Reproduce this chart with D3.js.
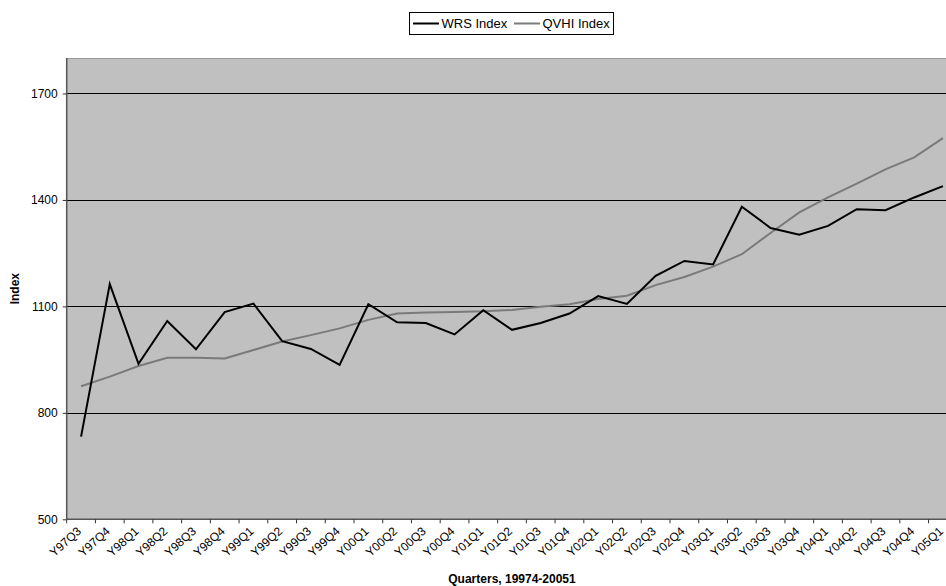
<!DOCTYPE html>
<html>
<head>
<meta charset="utf-8">
<script src="https://cdn.jsdelivr.net/npm/d3@7"></script>
<style>
  html, body { margin: 0; padding: 0; background: #fff; }
  svg { display: block; font-family: "Liberation Sans", Arial, sans-serif; }
</style>
</head>
<body>
<svg id="chart" width="946" height="586"></svg>
<script>
// Quarterly categories
const quarters = [
  "Y97Q3","Y97Q4",
  "Y98Q1","Y98Q2","Y98Q3","Y98Q4",
  "Y99Q1","Y99Q2","Y99Q3","Y99Q4",
  "Y00Q1","Y00Q2","Y00Q3","Y00Q4",
  "Y01Q1","Y01Q2","Y01Q3","Y01Q4",
  "Y02Q1","Y02Q2","Y02Q3","Y02Q4",
  "Y03Q1","Y03Q2","Y03Q3","Y03Q4",
  "Y04Q1","Y04Q2","Y04Q3","Y04Q4",
  "Y05Q1"
];

// Series values
const wrsIndex = [
  733, 1163, 938, 1059, 979, 1084, 1108, 1002, 980, 935,
  1106, 1055, 1053, 1021, 1089, 1034, 1053, 1080, 1129, 1107,
  1186, 1228, 1218, 1381, 1321, 1302, 1327, 1374, 1371, 1407,
  1439
];
const qvhiIndex = [
  875, 902, 932, 955, 955, 953, 977, 1001, 1019, 1038,
  1062, 1080, 1083, 1084, 1086, 1090, 1099, 1106, 1121, 1130,
  1160, 1183, 1212, 1247, 1307, 1365, 1407, 1446, 1486, 1520,
  1574
];

// Y axis ticks
const yTicks = [500, 800, 1100, 1400, 1700];
const yDomain = [500, 1800];

const seriesNames = ["WRS Index", "QVHI Index"];

const svg = d3.select("#chart");

const plot = { left: 66.7, right: 957.3, top: 58, bottom: 519.3 };

const x = d3.scaleBand()
  .domain(quarters)
  .range([plot.left, plot.right])
  .padding(0);

const y = d3.scaleLinear()
  .domain(yDomain)
  .range([plot.bottom, plot.top]);

// Plot area background
svg.append("rect")
  .attr("x", plot.left)
  .attr("y", plot.top)
  .attr("width", plot.right - plot.left)
  .attr("height", plot.bottom - plot.top)
  .attr("fill", "#c0c0c0");

// top border
svg.append("line")
  .attr("x1", plot.left).attr("x2", plot.right)
  .attr("y1", plot.top + 0.5).attr("y2", plot.top + 0.5)
  .attr("stroke", "#9a9a9a").attr("stroke-width", 1);

// Horizontal gridlines
svg.append("g")
  .selectAll("line")
  .data(yTicks.filter(d => d !== 500))
  .join("line")
  .attr("x1", plot.left)
  .attr("x2", plot.right)
  .attr("y1", d => Math.round(y(d)) + 0.5)
  .attr("y2", d => Math.round(y(d)) + 0.5)
  .attr("stroke", "#000")
  .attr("stroke-width", 1);

// Y axis
const yAxis = d3.axisLeft(y)
  .tickValues(yTicks)
  .tickSize(4)
  .tickPadding(5)
  .tickFormat(d3.format("d"));

const gy = svg.append("g")
  .attr("transform", `translate(${plot.left},0)`)
  .call(yAxis);
gy.select(".domain").attr("stroke", "#555").attr("stroke-width", 1.5)
  .attr("d", `M0,${plot.top}V${plot.bottom}`);
gy.selectAll(".tick line").attr("stroke", "#333");
gy.selectAll(".tick text")
  .attr("font-size", 12)
  .attr("fill", "#000")
  .attr("font-family", "Liberation Sans, Arial, sans-serif");

// X axis
const xAxis = d3.axisBottom(x).tickSize(0).tickPadding(0);
const gx = svg.append("g")
  .attr("transform", `translate(0,${plot.bottom})`)
  .call(xAxis);
gx.select(".domain").attr("stroke", "#555").attr("stroke-width", 1.5)
  .attr("d", `M${plot.left},0H${plot.right}`);

// Tick marks at category boundaries
gx.append("g")
  .selectAll("line")
  .data(quarters.concat(["__end"]))
  .join("line")
  .attr("x1", (d, i) => plot.left + i * x.bandwidth())
  .attr("x2", (d, i) => plot.left + i * x.bandwidth())
  .attr("y1", 0)
  .attr("y2", 4)
  .attr("stroke", "#333");

gx.selectAll(".tick text")
  .attr("font-size", 12)
  .attr("fill", "#000")
  .attr("font-family", "Liberation Sans, Arial, sans-serif")
  .attr("text-anchor", "end")
  .attr("dy", null)
  .attr("y", 0)
  .attr("transform", "translate(1,13) rotate(-42)");

// Lines
const line = d3.line()
  .x((d, i) => x(quarters[i]) + x.bandwidth() / 2)
  .y(d => y(d));

svg.append("path")
  .datum(qvhiIndex)
  .attr("fill", "none")
  .attr("stroke", "#7a7a7a")
  .attr("stroke-width", 2)
  .attr("stroke-linejoin", "miter")
  .attr("d", line);

svg.append("path")
  .datum(wrsIndex)
  .attr("fill", "none")
  .attr("stroke", "#000")
  .attr("stroke-width", 2)
  .attr("stroke-linejoin", "miter")
  .attr("d", line);

// Axis titles
svg.append("text")
  .attr("transform", `translate(19,${(plot.top + plot.bottom) / 2}) rotate(-90)`)
  .attr("text-anchor", "middle")
  .attr("font-size", 12)
  .attr("font-weight", "bold")
  .text("Index");

svg.append("text")
  .attr("x", 512)
  .attr("y", 583)
  .attr("text-anchor", "middle")
  .attr("font-size", 12)
  .attr("font-weight", "bold")
  .text("Quarters, 19974-20051");

// Legend
const legend = svg.append("g");
legend.append("rect")
  .attr("x", 409.5).attr("y", 12.5)
  .attr("width", 204).attr("height", 22)
  .attr("fill", "#fff").attr("stroke", "#000").attr("stroke-width", 1);

const legendItems = [
  { name: seriesNames[0], color: "#000", x0: 413 },
  { name: seriesNames[1], color: "#7a7a7a", x0: 514 }
];
legendItems.forEach(it => {
  legend.append("line")
    .attr("x1", it.x0).attr("x2", it.x0 + 26)
    .attr("y1", 23.5).attr("y2", 23.5)
    .attr("stroke", it.color).attr("stroke-width", 2);
  legend.append("text")
    .attr("x", it.x0 + 28.5).attr("y", 28)
    .attr("font-size", 13)
    .attr("fill", "#000")
    .text(it.name);
});
</script>
</body>
</html>
